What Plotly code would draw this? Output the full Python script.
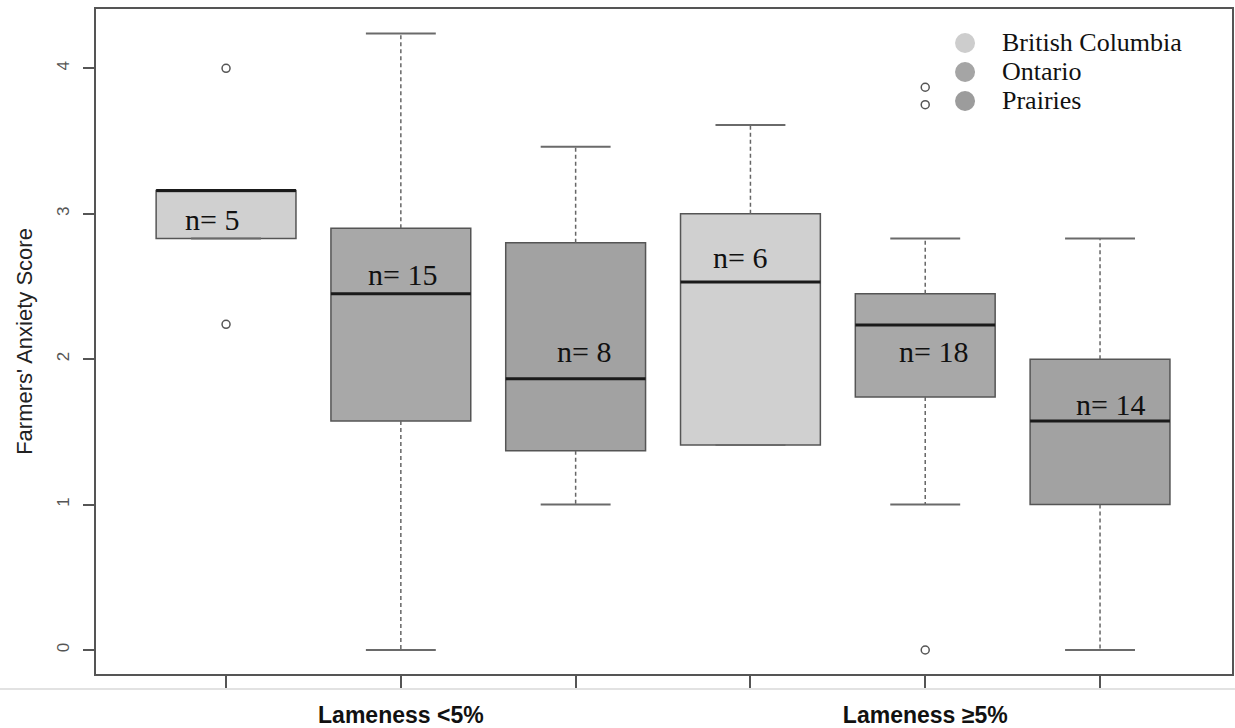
import plotly.graph_objects as go

# Box summary statistics per group (positions 1-6 along the x axis)
positions = [1, 2, 3, 4, 5, 6]
regions = ["British Columbia", "Ontario", "Prairies",
           "British Columbia", "Ontario", "Prairies"]
q1 = [2.83, 1.575, 1.37, 1.41, 1.74, 1.00]
medians = [3.16, 2.45, 1.865, 2.53, 2.235, 1.575]
q3 = [3.16, 2.90, 2.80, 3.00, 2.45, 2.00]
whisker_low = [2.83, 0.00, 1.00, 1.41, 1.00, 0.00]
whisker_high = [3.16, 4.24, 3.46, 3.61, 2.83, 2.83]
n_counts = [5, 15, 8, 6, 18, 14]

# Outlying observations
outlier_pos = [1, 1, 5, 5, 5]
outlier_val = [4.00, 2.24, 3.87, 3.75, 0.00]

# Where the "n=" labels sit
label_x = [0.92, 2.01, 3.05, 3.94, 5.05, 6.06]
label_y = [2.96, 2.58, 2.05, 2.70, 2.05, 1.685]

# Axis ticks
y_ticks = [0, 1, 2, 3, 4]
x_tick_text = ["", "Lameness <5%", "", "", "Lameness \u22655%", ""]

region_names = ["British Columbia", "Ontario", "Prairies"]
region_colors = {"British Columbia": "#d0d0d0", "Ontario": "#a8a8a8", "Prairies": "#a2a2a2"}
legend_colors = {"British Columbia": "#cdcdcd", "Ontario": "#a5a5a5", "Prairies": "#9c9c9c"}

BOX_WIDTH = 0.8
CAP_HALF = 0.2
FRAME = "#555555"

fig = go.Figure()

# Boxes, one trace per region
for reg in region_names:
    idx = [i for i, r in enumerate(regions) if r == reg]
    fig.add_trace(go.Box(
        x=[positions[i] for i in idx],
        q1=[q1[i] for i in idx],
        median=[medians[i] for i in idx],
        q3=[q3[i] for i in idx],
        lowerfence=[q1[i] for i in idx],
        upperfence=[q3[i] for i in idx],
        width=BOX_WIDTH,
        whiskerwidth=0,
        fillcolor=region_colors[reg],
        line=dict(color=FRAME, width=1.5),
        boxpoints=False,
        name=reg,
        showlegend=False,
        hoverinfo="skip",
    ))

# Dashed whiskers
wx, wy = [], []
for p, lo, a, b, hi in zip(positions, whisker_low, q1, q3, whisker_high):
    wx += [p, p, None, p, p, None]
    wy += [b, hi, None, a, lo, None]
fig.add_trace(go.Scatter(x=wx, y=wy, mode="lines",
                         line=dict(color="#666666", width=1.5, dash="4px,3px"),
                         showlegend=False, hoverinfo="skip"))

# Whisker caps
cx, cy = [], []
for p, lo, hi in zip(positions, whisker_low, whisker_high):
    cx += [p - CAP_HALF, p + CAP_HALF, None, p - CAP_HALF, p + CAP_HALF, None]
    cy += [hi, hi, None, lo, lo, None]
fig.add_trace(go.Scatter(x=cx, y=cy, mode="lines",
                         line=dict(color="#6a6a6a", width=2),
                         showlegend=False, hoverinfo="skip"))

# Heavy median bars
mx, my = [], []
for p, m in zip(positions, medians):
    mx += [p - BOX_WIDTH / 2, p + BOX_WIDTH / 2, None]
    my += [m, m, None]
fig.add_trace(go.Scatter(x=mx, y=my, mode="lines",
                         line=dict(color="#1a1a1a", width=3),
                         showlegend=False, hoverinfo="skip"))

# Outliers
fig.add_trace(go.Scatter(x=outlier_pos, y=outlier_val, mode="markers",
                         marker=dict(symbol="circle-open", size=8,
                                     color="#555555", line=dict(width=1.5)),
                         showlegend=False, hoverinfo="skip"))

# Sample size labels
for xx, yy, n in zip(label_x, label_y, n_counts):
    fig.add_annotation(x=xx, y=yy, xref="x", yref="y", text=f"n= {n}",
                       showarrow=False, xanchor="center", yanchor="middle",
                       font=dict(family="Liberation Serif, Times New Roman, serif",
                                 size=30, color="#111111"))

# Legend drawn as filled dots with text
legend_x_dot = 0.765
legend_x_text = 0.7958
legend_rows = [0.9489, 0.9053, 0.8617]
shapes = []
for reg, ry in zip(region_names, legend_rows):
    shapes.append(dict(type="circle", xref="paper", yref="paper",
                       xsizemode="pixel", ysizemode="pixel",
                       xanchor=legend_x_dot, yanchor=ry,
                       x0=-10, x1=10, y0=-10, y1=10,
                       fillcolor=legend_colors[reg], line=dict(width=0)))
    fig.add_annotation(x=legend_x_text, y=ry, xref="paper", yref="paper",
                       text=reg, showarrow=False, xanchor="left", yanchor="middle",
                       font=dict(family="Liberation Serif, Times New Roman, serif",
                                 size=26, color="#111111"))

# Faint rule below the axis
shapes.append(dict(type="line", xref="paper", yref="paper",
                   x0=-0.0845, x1=1.0026, y0=-0.0226, y1=-0.0226,
                   line=dict(color="#e2e2e2", width=2)))

fig.update_layout(
    width=1235, height=728,
    margin=dict(l=96, r=3, t=9, b=54, autoexpand=False),
    paper_bgcolor="white", plot_bgcolor="white",
    shapes=shapes,
    boxmode="overlay",
    showlegend=False,
)

fig.update_xaxes(
    range=[0.256, 6.755],
    tickmode="array", tickvals=positions, ticktext=x_tick_text,
    ticks="outside", ticklen=12, tickwidth=1.5, tickcolor=FRAME,
    ticklabelstandoff=8, automargin=False,
    tickfont=dict(family="Liberation Sans Narrow, Liberation Sans, Arial, sans-serif",
                  size=23, color="#111111", weight="bold"),
    showline=True, mirror=True, linecolor=FRAME, linewidth=1.5,
    showgrid=False, zeroline=False,
)

fig.update_yaxes(
    range=[-0.165, 4.408],
    tickmode="array", tickvals=y_ticks,
    ticks="outside", ticklen=11, tickwidth=1.5, tickcolor=FRAME,
    tickangle=-90, ticklabelstandoff=7, automargin=False,
    tickfont=dict(family="Liberation Sans, Arial, sans-serif", size=17, color="#555555"),
    title=dict(text="Farmers' Anxiety Score", standoff=16,
               font=dict(family="Liberation Sans, Arial, sans-serif", size=22, color="#222222")),
    showline=True, mirror=True, linecolor=FRAME, linewidth=1.5,
    showgrid=False, zeroline=False,
)

fig.write_html("out.html")
